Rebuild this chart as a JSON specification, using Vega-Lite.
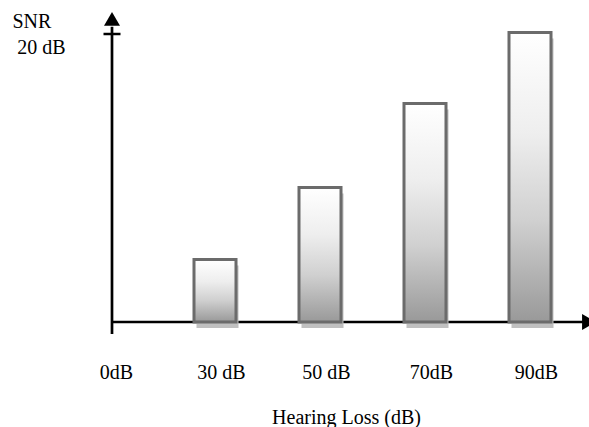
{
  "$schema": "https://vega.github.io/schema/vega-lite/v6.json",
  "width": 477,
  "height": 322,
  "autosize": {"type": "none"},
  "padding": {"left": 112, "top": 12, "right": 0, "bottom": 93},
  "background": "white",
  "config": {
    "view": {"stroke": null},
    "font": "Liberation Serif",
    "axis": {"grid": false}
  },
  "datasets": {
    "bars": [
      {"loss": "30 dB", "snr": 4.34},
      {"loss": "50 dB", "snr": 9.34},
      {"loss": "70dB", "snr": 15.17},
      {"loss": "90dB", "snr": 20.1}
    ],
    "one": [{}]
  },
  "layer": [
    {
      "data": {"name": "one"},
      "mark": {"type": "rule", "color": "black", "strokeWidth": 2.7},
      "encoding": {
        "x": {"datum": 0, "type": "quantitative", "scale": {"domain": [0, 1]}, "axis": null},
        "y": {"datum": -0.8333, "type": "quantitative"},
        "y2": {"datum": 20.5}
      }
    },
    {
      "data": {"name": "one"},
      "mark": {"type": "rule", "color": "black", "strokeWidth": 2.7},
      "encoding": {
        "x": {"datum": 0, "type": "quantitative", "scale": {"domain": [0, 1]}, "axis": null},
        "x2": {"datum": 0.99},
        "y": {"datum": 0, "type": "quantitative"}
      }
    },
    {
      "data": {"name": "bars"},
      "mark": {"type": "bar", "fill": "#c0c0c0", "size": 42, "xOffset": 2.5, "yOffset": 6, "y2Offset": 6, "opacity": 1},
      "encoding": {
        "x": {"field": "loss", "type": "ordinal", "scale": {"type": "point", "domain": ["0dB", "30 dB", "50 dB", "70dB", "90dB"], "range": [-2, 418], "padding": 0}, "axis": null},
        "y": {"field": "snr", "type": "quantitative"}
      }
    },
    {
      "data": {"name": "bars"},
      "mark": {
        "type": "bar",
        "size": 42,
        "opacity": 1,
        "stroke": "#6b6b6b",
        "strokeWidth": 3,
        "fill": {
          "gradient": "linear", "x1": 0, "y1": 0, "x2": 0, "y2": 1,
          "stops": [
            {"offset": 0, "color": "#ffffff"},
            {"offset": 0.35, "color": "#eeeeee"},
            {"offset": 0.65, "color": "#d0d0d0"},
            {"offset": 1, "color": "#999999"}
          ]
        }
      },
      "encoding": {
        "x": {
          "field": "loss", "type": "ordinal",
          "scale": {"type": "point", "domain": ["0dB", "30 dB", "50 dB", "70dB", "90dB"], "range": [-2, 418], "padding": 0},
          "axis": {
            "title": "Hearing Loss (dB)",
            "domain": false, "ticks": false, "tickSize": 0,
            "labelAngle": 0, "labelFont": "Liberation Serif", "labelFontSize": 20, "labelColor": "black",
            "labelBaseline": "alphabetic", "labelPadding": 44, "labelOffset": 6,
            "titleFont": "Liberation Serif", "titleFontSize": 20, "titleFontWeight": "normal", "titleColor": "black",
            "titleX": 234, "titleY": 89, "titleAlign": "center", "titleBaseline": "alphabetic"
          }
        },
        "y": {
          "field": "snr", "type": "quantitative",
          "scale": {"domain": [-0.8333, 21.528], "nice": false, "zero": false},
          "axis": {
            "title": "SNR", "values": [20], "labelExpr": "datum.value + ' dB'",
            "domain": false, "ticks": false, "tickSize": 0, "grid": false,
            "labelFont": "Liberation Serif", "labelFontSize": 20, "labelColor": "black",
            "labelAlign": "right", "labelBaseline": "alphabetic", "labelPadding": 47, "labelOffset": 19,
            "titleFont": "Liberation Serif", "titleFontSize": 20, "titleFontWeight": "normal", "titleColor": "black",
            "titleAngle": 0, "titleAlign": "left", "titleBaseline": "alphabetic", "titleX": -100, "titleY": 15
          }
        }
      }
    },
    {
      "data": {"name": "one"},
      "mark": {"type": "point", "shape": "triangle-up", "size": 256, "filled": true, "color": "black", "opacity": 1},
      "encoding": {
        "x": {"datum": 0, "type": "quantitative", "scale": {"domain": [0, 1]}, "axis": null},
        "y": {"datum": 21.05, "type": "quantitative"}
      }
    },
    {
      "data": {"name": "one"},
      "mark": {"type": "point", "shape": "triangle-right", "size": 256, "filled": true, "color": "black", "opacity": 1},
      "encoding": {
        "x": {"datum": 1, "type": "quantitative", "scale": {"domain": [0, 1]}, "axis": null},
        "y": {"datum": 0, "type": "quantitative"}
      }
    },
    {
      "data": {"name": "one"},
      "mark": {"type": "tick", "orient": "horizontal", "size": 17, "thickness": 2.5, "color": "black", "opacity": 1},
      "encoding": {
        "x": {"datum": 0, "type": "quantitative", "scale": {"domain": [0, 1]}, "axis": null},
        "y": {"datum": 20, "type": "quantitative"}
      }
    }
  ],
  "resolve": {"scale": {"x": "independent"}}
}
